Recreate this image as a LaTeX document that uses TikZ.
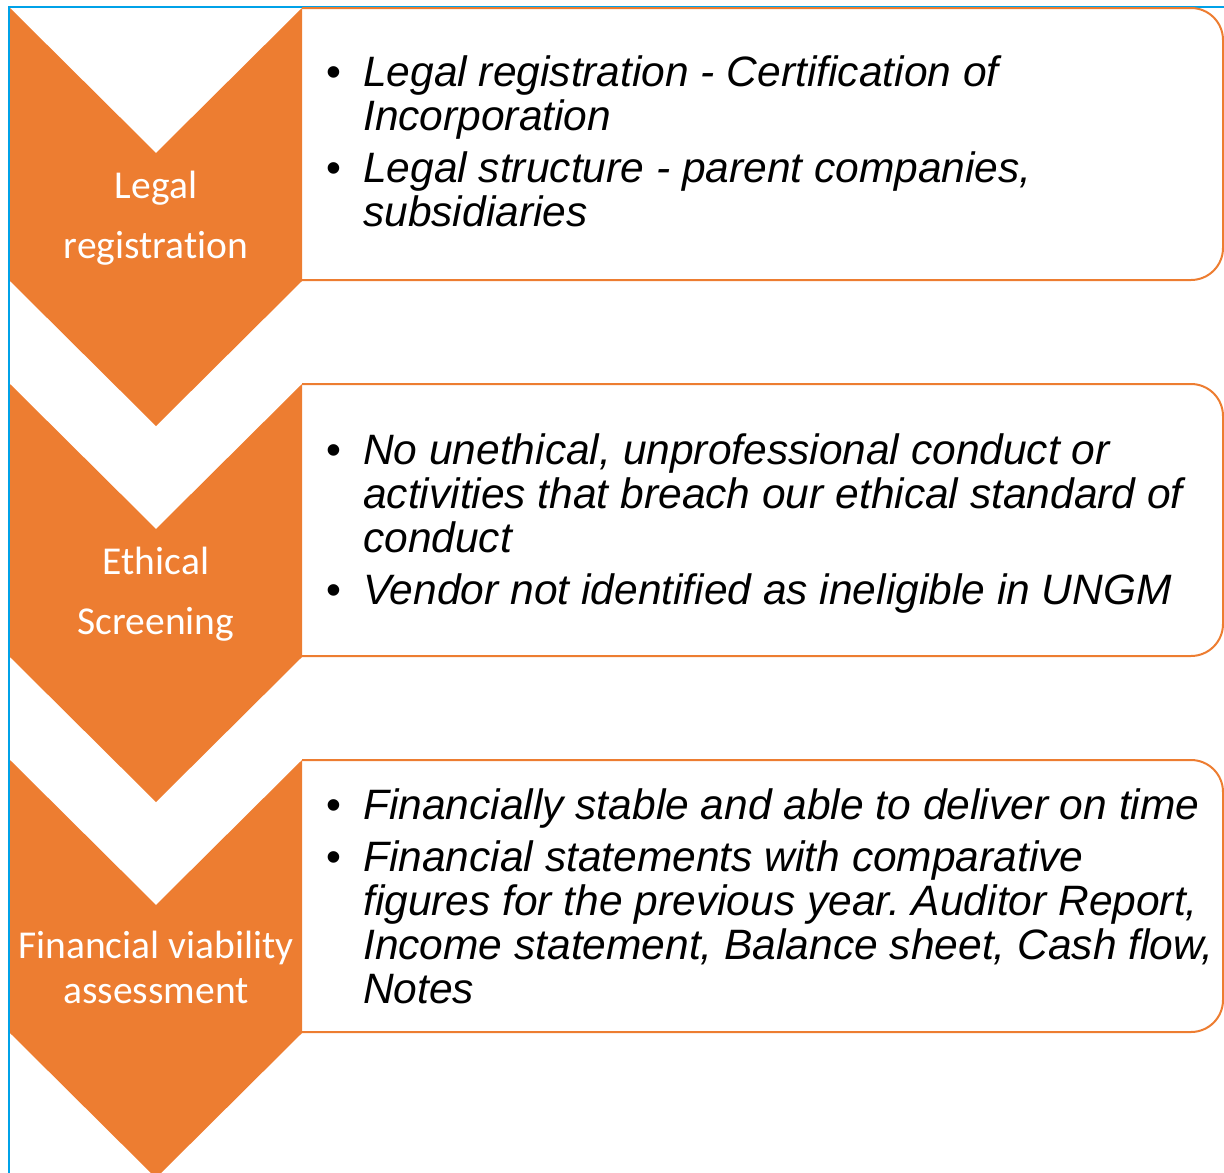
\documentclass[tikz,border=0pt]{standalone}
\usepackage{fontspec}
\newfontfamily\itemfont{Liberation Sans}
\newfontfamily\stepfont[Ligatures=NoCommon]{Carlito}
\usetikzlibrary{positioning}
\definecolor{accent}{RGB}{237,125,49}
\definecolor{frameblue}{RGB}{0,162,232}
\tikzstyle{chevron} = [fill=accent, draw=none]
\tikzstyle{panel} = [draw=accent, line width=2pt, rounded corners=32pt]
\tikzstyle{frameline} = [draw=frameblue, line width=1.5pt]
\tikzstyle{steplabel} = [text=white, inner sep=0pt, anchor=base, font=\stepfont\fontsize{39.5}{45}\selectfont]
\tikzstyle{itemlist} = [text=black, inner sep=0pt, anchor=base west, font=\itemfont\itshape\fontsize{42.5}{44}\selectfont]
\newcommand{\bul}{\makebox[37pt][l]{\upshape\textbullet}}
\frenchspacing

\begin{document}
\begin{tikzpicture}[x=1pt,y=-1pt]
    \clip (0,0) rectangle (1224,1173);
    \draw [frameline] (9,1173) -- (9,7) -- (1224,7);

    \foreach \t in {8,384,760} {
        \draw [panel] (302,\t) -- (1223,\t) -- (1223,\t+272) -- (302,\t+272);
        \fill [chevron] (10,\t) -- (156,\t+145) -- (302,\t) -- (302,\t+273)
            -- (156,\t+418) -- (10,\t+273) -- cycle;
    }

    \node [steplabel] (legal) at (156,198) {\begin{tabular}[t]{@{}c@{}}Legal\\[15pt] registration\end{tabular}};
    \node [steplabel] (ethical) at (156,574) {\begin{tabular}[t]{@{}c@{}}Ethical\\[15pt] Screening\end{tabular}};
    \node [steplabel] (financial) at (156,958) {\begin{tabular}[t]{@{}c@{}}Financial viability\\ assessment\end{tabular}};

    \node [itemlist] (legalitems) at (326,86) {\begin{tabular}[t]{@{}l@{}l@{}}
        \bul & Legal registration - Certification of\\
             & Incorporation\\[8pt]
        \bul & Legal structure - parent companies,\\
             & subsidiaries
    \end{tabular}};
    \node [itemlist] (ethicalitems) at (326,464) {\begin{tabular}[t]{@{}l@{}l@{}}
        \bul & No unethical, unprofessional conduct or\\
             & activities that breach our ethical standard of\\
             & conduct\\[8pt]
        \bul & Vendor not identified as ineligible in UNGM
    \end{tabular}};
    \node [itemlist] (financialitems) at (326,819) {\begin{tabular}[t]{@{}l@{}l@{}}
        \bul & Financially stable and able to deliver on time\\[8pt]
        \bul & Financial statements with comparative\\
             & figures for the previous year. Auditor Report,\\
             & Income statement, Balance sheet, Cash flow,\\
             & Notes
    \end{tabular}};
\end{tikzpicture}
\end{document}
